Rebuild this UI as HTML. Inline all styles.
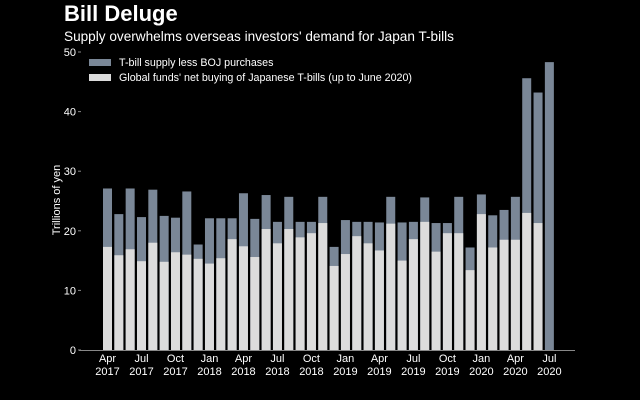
<!DOCTYPE html>
<html><head><meta charset="utf-8"><style>
html,body{margin:0;padding:0;background:#000;}
svg{display:block;font-family:"Liberation Sans",Arial,sans-serif;}
</style></head><body>
<svg id="chart" width="640" height="400" viewBox="0 0 640 400" xmlns="http://www.w3.org/2000/svg">
<rect width="640" height="400" fill="#000"/>
<text x="64" y="21" fill="#fff" font-size="22" font-weight="bold">Bill Deluge</text>
<text x="64" y="41" fill="#fff" font-size="13.6">Supply overwhelms overseas investors' demand for Japan T-bills</text>
<g>
<rect x="89" y="59" width="22" height="7" fill="#7a8797"/>
<text x="119" y="66" fill="#fff" font-size="10.7">T-bill supply less BOJ purchases</text>
<rect x="89" y="74" width="22" height="7" fill="#dcdcdc"/>
<text x="119" y="81" fill="#fff" font-size="10.7">Global funds' net buying of Japanese T-bills (up to June 2020)</text>
</g>
<text transform="translate(60,200) rotate(-90)" text-anchor="middle" fill="#fff" font-size="11">Trillions of yen</text>
<g id="yaxis"></g>
<g id="bars"></g>
<g id="xaxis"></g>
</svg>
<script>
const supply=[27.1,22.8,27.1,22.3,26.9,22.5,22.2,26.6,17.7,22.1,22.1,22.1,26.3,22.0,26.0,21.5,25.7,21.5,21.5,25.7,17.3,21.8,21.5,21.5,21.4,25.7,21.4,21.5,25.6,21.3,21.3,25.7,17.2,26.1,22.6,23.5,25.7,45.6,43.2,48.3];
const demand=[17.3,15.9,16.9,14.9,18.0,14.8,16.4,16.0,15.3,14.5,15.4,18.6,17.4,15.6,20.3,17.9,20.3,18.9,19.6,21.3,14.1,16.1,19.1,17.9,16.7,21.2,15.0,18.6,21.5,16.5,19.6,19.6,13.4,22.8,17.2,18.5,18.5,23.0,21.3,null];
const xLabels=[["Apr","2017"],["Jul","2017"],["Oct","2017"],["Jan","2018"],["Apr","2018"],["Jul","2018"],["Oct","2018"],["Jan","2019"],["Apr","2019"],["Jul","2019"],["Oct","2019"],["Jan","2020"],["Apr","2020"],["Jul","2020"]];
const yTicks=[0,10,20,30,40,50];
const NS="http://www.w3.org/2000/svg";
const y0=350,yTop=52,vMax=50;
const x0=107.5,step=11.33,bw=9;
function yScale(v){return y0-(v/vMax)*(y0-yTop);}
function xScale(i){return x0+i*step;}
function mk(tag,attrs,parent){const e=document.createElementNS(NS,tag);for(const k in attrs)e.setAttribute(k,attrs[k]);parent.appendChild(e);return e;}
const ya=document.getElementById('yaxis'),bg=document.getElementById('bars'),xa=document.getElementById('xaxis');
yTicks.forEach(t=>{
  const y=yScale(t);
  const tx=mk('text',{x:76,y:y+4,'text-anchor':'end',fill:'#fff','font-size':11},ya);
  tx.textContent=t;
  
  
  const tk=mk('line',{x1:78,x2:81,y1:y,y2:y,stroke:'#888','stroke-width':1},ya);
  
  
});
supply.forEach((v,i)=>{
  const r=mk('rect',{x:xScale(i)-bw/2,y:yScale(v),width:bw,height:y0-yScale(v),fill:'#7a8797'},bg);
  
  
  const d=demand[i];
  if(d!==null){
    const r2=mk('rect',{x:xScale(i)-bw/2,y:yScale(d),width:bw,height:y0-yScale(d),fill:'#dcdcdc'},bg);
    
    
  }
});
const ax=mk('line',{x1:79,x2:575,y1:y0+0.5,y2:y0+0.5,stroke:'#888','stroke-width':1},xa);


xLabels.forEach((l,k)=>{
  const x=xScale(k*3);
  const t=mk('text',{x:x,y:362,'text-anchor':'middle',fill:'#fff','font-size':11},xa);
  
  
  mk('tspan',{x:x,dy:0},t).textContent=l[0];
  mk('tspan',{x:x,dy:13},t).textContent=l[1];
});
</script>
</body></html>
